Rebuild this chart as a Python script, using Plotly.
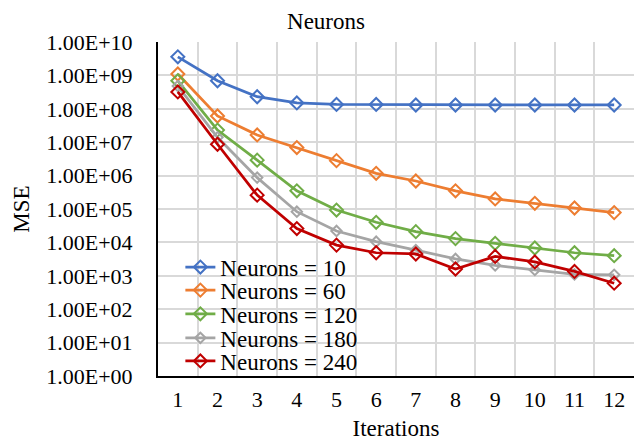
import plotly.graph_objects as go

iterations = [1, 2, 3, 4, 5, 6, 7, 8, 9, 10, 11, 12]
series_names = ["Neurons = 10", "Neurons = 60", "Neurons = 120", "Neurons = 180", "Neurons = 240"]
n10 = [3.6e9, 6.9e8, 2.3e8, 1.5e8, 1.35e8, 1.35e8, 1.3e8, 1.3e8, 1.3e8, 1.3e8, 1.3e8, 1.3e8]
n60 = [1.1e9, 6.1e7, 1.65e7, 6.9e6, 2.8e6, 1.17e6, 6.9e5, 3.5e5, 2.0e5, 1.48e5, 1.07e5, 7.8e4]
n120 = [6.9e8, 2.3e7, 2.9e6, 3.5e5, 9.3e4, 4.0e4, 2.1e4, 1.3e4, 9.4e3, 6.8e3, 4.9e3, 4.0e3]
n180 = [4.8e8, 1.4e7, 8.7e5, 8.3e4, 2.2e4, 1.05e4, 5.9e3, 3.2e3, 2.05e3, 1.5e3, 1.1e3, 1.07e3]
n240 = [3.2e8, 8.7e6, 2.6e5, 2.6e4, 8.3e3, 4.9e3, 4.5e3, 1.6e3, 3.8e3, 2.6e3, 1.35e3, 6.0e2]
y_tick_vals = [1e0, 1e1, 1e2, 1e3, 1e4, 1e5, 1e6, 1e7, 1e8, 1e9, 1e10]
y_tick_text = ["1.00E+00", "1.00E+01", "1.00E+02", "1.00E+03", "1.00E+04", "1.00E+05",
               "1.00E+06", "1.00E+07", "1.00E+08", "1.00E+09", "1.00E+10"]

colors = ["#4472C4", "#ED7D31", "#70AD47", "#A5A5A5", "#C00000"]
marker_sizes = [10, 10, 10, 8, 10]
all_series = [n10, n60, n120, n180, n240]
legend_ids = ["legend", "legend2", "legend3", "legend4", "legend5"]
legend_ys = [0.326, 0.257, 0.186, 0.114, 0.045]

FONT = "Liberation Serif"
FS = 22
FS_BIG = 23

fig = go.Figure()
for name, vals, c, ms, lid in zip(series_names, all_series, colors, marker_sizes, legend_ids):
    fig.add_trace(go.Scatter(
        x=[str(i) for i in iterations], y=vals, name=name, mode="lines+markers",
        line=dict(color=c, width=2.75),
        marker=dict(symbol="diamond-open", size=ms, color=c, line=dict(width=2, color=c)),
        legend=lid,
    ))

legend_layout = {}
for lid, ly in zip(legend_ids, legend_ys):
    legend_layout[lid] = dict(
        x=0.047, y=ly, xanchor="left", yanchor="middle",
        bgcolor="rgba(0,0,0,0)", borderwidth=0,
        font=dict(family=FONT, size=FS_BIG, color="black"),
    )

# page body has an 8px default margin, so the figure is sized to fit the 644x441 window
fig.update_layout(
    width=636, height=433,
    margin=dict(l=150, r=10, t=34, b=65),
    paper_bgcolor="white", plot_bgcolor="white",
    font=dict(family=FONT, color="black", size=FS),
    title=dict(text="Neurons", x=0.5, xanchor="center", y=0.971, yanchor="middle",
               font=dict(family=FONT, size=FS_BIG, color="black")),
    showlegend=True,
    **legend_layout,
)
fig.update_xaxes(
    type="category", tickson="boundaries", range=[-0.5, 11.5],
    showgrid=True, gridcolor="#D9D9D9", gridwidth=2,
    showline=True, linecolor="black", linewidth=2, ticks="", automargin=False,
    ticklabelstandoff=3,
    title=dict(text="Iterations", font=dict(family=FONT, size=FS_BIG), standoff=8),
    tickfont=dict(family=FONT, size=FS),
)
fig.update_yaxes(
    type="log", range=[0, 10], tickvals=y_tick_vals, ticktext=y_tick_text,
    showgrid=True, gridcolor="#D9D9D9", gridwidth=2, automargin=False,
    showline=True, linecolor="black", linewidth=2, ticks="",
    ticklabelstandoff=19,
    title=dict(text="MSE", font=dict(family=FONT, size=FS_BIG), standoff=10),
    tickfont=dict(family=FONT, size=FS),
)

fig.write_html("out.html")
